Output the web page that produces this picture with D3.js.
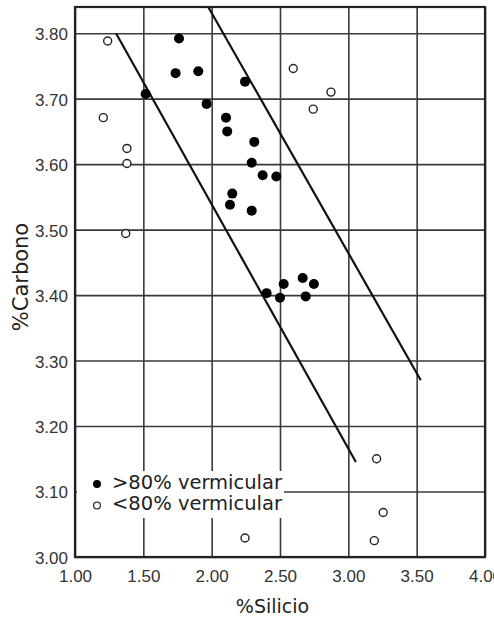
<!DOCTYPE html>
<html>
<head>
<meta charset="utf-8">
<script src="https://cdn.jsdelivr.net/npm/d3@7"></script>
<style>
  html, body { margin: 0; padding: 0; background: #fff; }
  svg { display: block; }
</style>
</head>
<body>
<svg id="chart" width="494" height="617"></svg>
<script>
// Data
const xTicks = [1.0, 1.5, 2.0, 2.5, 3.0, 3.5, 4.0];
const yTicks = [3.0, 3.1, 3.2, 3.3, 3.4, 3.5, 3.6, 3.7, 3.8];

// >80% vermicular (filled)
const above80Si = [1.761, 1.736, 1.902, 2.244, 1.517, 1.963, 2.105, 2.114, 2.312, 2.293, 2.373, 2.473, 2.151, 2.134, 2.293, 2.402, 2.500, 2.527, 2.666, 2.748, 2.688];
const above80C  = [3.792, 3.739, 3.742, 3.726, 3.707, 3.692, 3.671, 3.650, 3.634, 3.602, 3.583, 3.581, 3.555, 3.538, 3.529, 3.403, 3.396, 3.417, 3.426, 3.417, 3.398];

// <80% vermicular (open)
const below80Si = [1.239, 1.207, 1.380, 1.380, 2.597, 2.873, 2.743, 1.371, 3.207, 3.255, 3.190, 2.244];
const below80C  = [3.788, 3.671, 3.624, 3.601, 3.746, 3.710, 3.684, 3.494, 3.150, 3.068, 3.025, 3.029];

// Band boundary lines (Si, C)
const lowerLine = [[1.30, 3.80], [3.055, 3.145]];
const upperLine = [[1.975, 3.84], [3.53, 3.27]];

const legendLabels = [">80% vermicular", "<80% vermicular"];
const xLabel = "%Silicio";
const yLabel = "%Carbono";

const svg = d3.select("#chart");
const L = 75, R = 485, T = 7, B = 557;
const x = d3.scaleLinear().domain([1.0, 4.0]).range([L, R]);
const y = d3.scaleLinear().domain([3.0, 3.84]).range([B, T]);

const tickFont = "'Liberation Sans Narrow', 'Arial Narrow', 'Liberation Sans', sans-serif";
const labelFont = "'DejaVu Sans', Verdana, sans-serif";
const gridColor = "#3a3a3a";

// X grid + labels
const gx = svg.append("g")
  .attr("transform", `translate(0,${B})`)
  .call(d3.axisBottom(x).tickValues(xTicks).tickFormat(d3.format(".2f"))
    .tickSizeInner(-(B - T)).tickSizeOuter(0).tickPadding(13));
gx.select(".domain").remove();
gx.selectAll(".tick line").attr("stroke", gridColor).attr("stroke-width", 1.6);
gx.selectAll(".tick text").attr("font-family", tickFont).attr("font-size", 17).attr("fill", "#333");

// Y grid + labels
const gy = svg.append("g")
  .attr("transform", `translate(${L},0)`)
  .call(d3.axisLeft(y).tickValues(yTicks).tickFormat(d3.format(".2f"))
    .tickSizeInner(-(R - L)).tickSizeOuter(0).tickPadding(7));
gy.select(".domain").remove();
gy.selectAll(".tick line").attr("stroke", gridColor).attr("stroke-width", 1.6);
gy.selectAll(".tick text").attr("font-family", tickFont).attr("font-size", 17).attr("fill", "#333")
  .attr("dy", "0.38em");

// Frame
svg.append("rect")
  .attr("x", L).attr("y", T).attr("width", R - L).attr("height", B - T)
  .attr("fill", "none").attr("stroke", "#222").attr("stroke-width", 2.2);

// Band lines
const line = d3.line().x(d => x(d[0])).y(d => y(d[1]));
[lowerLine, upperLine].forEach(l => {
  svg.append("path").attr("d", line(l)).attr("fill", "none")
    .attr("stroke", "#111").attr("stroke-width", 2.2);
});

// Points
svg.append("g").selectAll("circle")
  .data(below80Si.map((s, i) => [s, below80C[i]]))
  .join("circle")
  .attr("cx", d => x(d[0])).attr("cy", d => y(d[1])).attr("r", 4)
  .attr("fill", "#fff").attr("stroke", "#222").attr("stroke-width", 1.4);

svg.append("g").selectAll("circle")
  .data(above80Si.map((s, i) => [s, above80C[i]]))
  .join("circle")
  .attr("cx", d => x(d[0])).attr("cy", d => y(d[1])).attr("r", 5)
  .attr("fill", "#000");

// Legend
const lg = svg.append("g");
lg.append("rect").attr("x", 77).attr("y", 471).attr("width", 207).attr("height", 47).attr("fill", "#fff");
lg.append("circle").attr("cx", 97).attr("cy", 484).attr("r", 4).attr("fill", "#000");
lg.append("circle").attr("cx", 97).attr("cy", 505.5).attr("r", 3.4)
  .attr("fill", "#fff").attr("stroke", "#333").attr("stroke-width", 1.3);
lg.selectAll("text").data(legendLabels).join("text")
  .attr("x", 112).attr("y", (d, i) => i === 0 ? 489 : 510)
  .attr("font-family", labelFont).attr("font-size", 19.5).attr("fill", "#222")
  .text(d => d);

// Axis titles
svg.append("text").attr("x", 272.5).attr("y", 613).attr("text-anchor", "middle")
  .attr("font-family", labelFont).attr("font-size", 19).attr("fill", "#222").text(xLabel);
svg.append("text").attr("transform", "translate(28,277) rotate(-90)").attr("text-anchor", "middle")
  .attr("font-family", labelFont).attr("font-size", 21).attr("fill", "#222").text(yLabel);
</script>
</body>
</html>
